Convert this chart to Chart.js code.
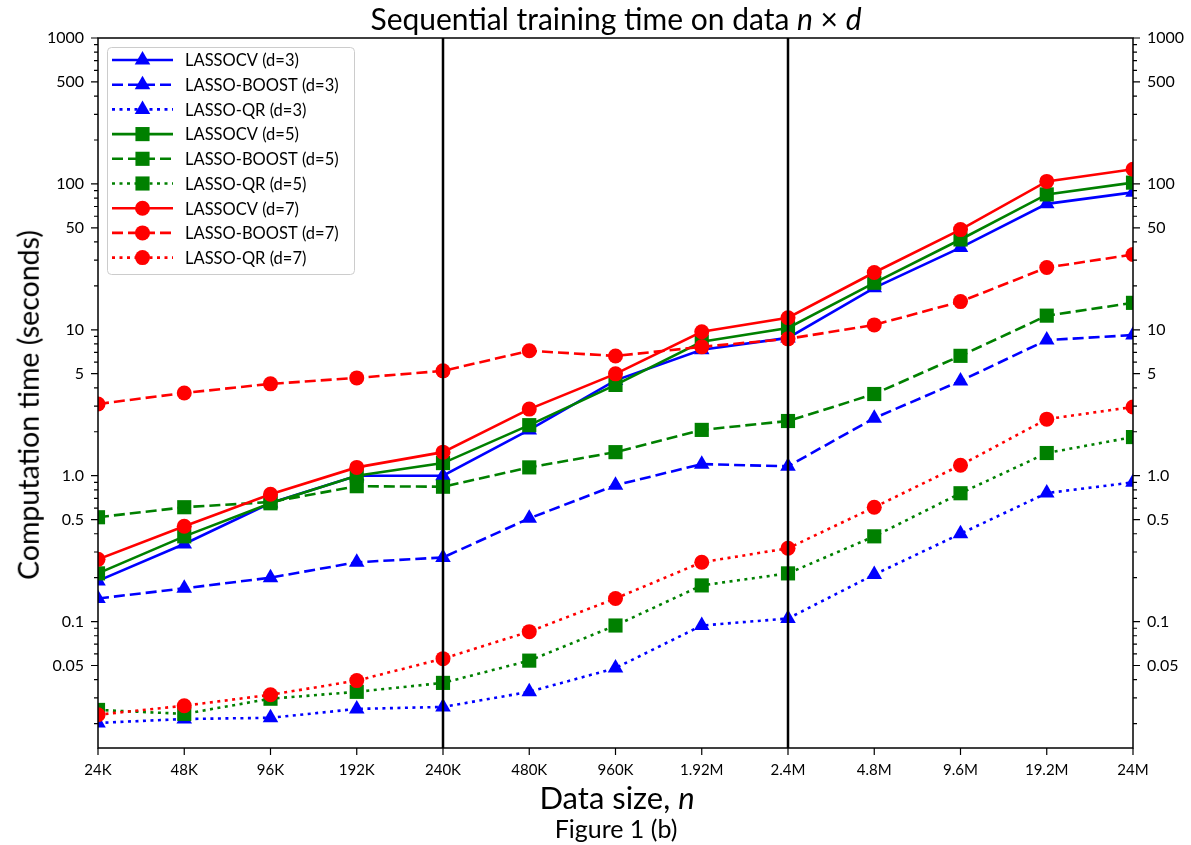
<!DOCTYPE html>
<html>
<head>
<meta charset="utf-8">
<script src="https://cdn.jsdelivr.net/npm/chart.js@4/dist/chart.umd.min.js"></script>
<style>
  body { margin: 0; background: #fff; }
  #wrap { position: relative; width: 1191px; height: 845px; font-family: Lato, "DejaVu Sans", sans-serif; color: #000; }
  canvas { position: absolute; left: 0; top: 0; }
  .lbl { position: absolute; white-space: nowrap; transform: translate(-50%, -50%); line-height: 1; }
  #title { left: 616px; top: 18px; font-size: 30px; }
  #xlabel { left: 617px; top: 797px; font-size: 31px; }
  #fig { left: 616px; top: 828px; font-size: 25px; }
  #ylabel { left: 28px; top: 405px; font-size: 28.5px; transform: translate(-50%, -50%) rotate(-90deg); }
</style>
</head>
<body>
<div id="wrap">
  <canvas id="chart" width="1191" height="845"></canvas>
  <div class="lbl" id="title">Sequential training time on data <i>n</i> × <i>d</i></div>
  <div class="lbl" id="xlabel">Data size, <i>n</i></div>
  <div class="lbl" id="fig">Figure 1 (b)</div>
  <div class="lbl" id="ylabel">Computation time (seconds)</div>
</div>
<script>
const sizes = ['24K', '48K', '96K', '192K', '240K', '480K', '960K', '1.92M', '2.4M', '4.8M', '9.6M', '19.2M', '24M']
const dividers = ['240K', '2.4M']

const lassoCvD3 = [0.19, 0.34, 0.65, 1.0, 1.0, 2.06, 4.5, 7.3, 8.8, 19.4, 36.6, 73, 87.5]
const boostD3 = [0.144, 0.169, 0.20, 0.255, 0.275, 0.51, 0.86, 1.2, 1.16, 2.48, 4.46, 8.5, 9.2]
const qrD3 = [0.0202, 0.0215, 0.0219, 0.0252, 0.026, 0.033, 0.048, 0.094, 0.105, 0.21, 0.40, 0.76, 0.90]
const lassoCvD5 = [0.214, 0.384, 0.647, 1.0, 1.22, 2.22, 4.19, 8.28, 10.3, 21.0, 41.6, 84.7, 102]
const boostD5 = [0.519, 0.608, 0.66, 0.847, 0.84, 1.14, 1.45, 2.06, 2.37, 3.63, 6.63, 12.5, 15.3]
const qrD5 = [0.0248, 0.0233, 0.0296, 0.033, 0.038, 0.054, 0.094, 0.177, 0.214, 0.384, 0.758, 1.43, 1.84]
const lassoCvD7 = [0.267, 0.45, 0.746, 1.14, 1.45, 2.86, 4.99, 9.7, 12.1, 24.7, 48.6, 104, 126]
const boostD7 = [3.1, 3.69, 4.26, 4.68, 5.23, 7.18, 6.62, 7.64, 8.67, 10.8, 15.6, 26.7, 32.8]
const qrD7 = [0.023, 0.0265, 0.0315, 0.0394, 0.0557, 0.0853, 0.144, 0.255, 0.318, 0.608, 1.18, 2.44, 2.96]

const yTickValues = [0.05, 0.1, 0.5, 1, 5, 10, 50, 100, 500, 1000]
const yTickLabels = ['0.05', '0.1', '0.5', '1.0', '5', '10', '50', '100', '500', '1000']

const FONT = 'Lato, "DejaVu Sans", sans-serif'
const styles = {
    solid: [],
    dashed: [11, 5],
    dotted: [3, 4.5],
}
const series = [
    { label: 'LASSOCV (d=3)', data: lassoCvD3, color: '#0000ff', dash: 'solid', marker: 'triangle', r: 9 },
    { label: 'LASSO-BOOST (d=3)', data: boostD3, color: '#0000ff', dash: 'dashed', marker: 'triangle', r: 9 },
    { label: 'LASSO-QR (d=3)', data: qrD3, color: '#0000ff', dash: 'dotted', marker: 'triangle', r: 9 },
    { label: 'LASSOCV (d=5)', data: lassoCvD5, color: '#008000', dash: 'solid', marker: 'rect', r: 10 },
    { label: 'LASSO-BOOST (d=5)', data: boostD5, color: '#008000', dash: 'dashed', marker: 'rect', r: 10 },
    { label: 'LASSO-QR (d=5)', data: qrD5, color: '#008000', dash: 'dotted', marker: 'rect', r: 10 },
    { label: 'LASSOCV (d=7)', data: lassoCvD7, color: '#ff0000', dash: 'solid', marker: 'circle', r: 7.5 },
    { label: 'LASSO-BOOST (d=7)', data: boostD7, color: '#ff0000', dash: 'dashed', marker: 'circle', r: 7.5 },
    { label: 'LASSO-QR (d=7)', data: qrD7, color: '#ff0000', dash: 'dotted', marker: 'circle', r: 7.5 },
]

const datasets = series.map((s, i) => ({
    label: s.label,
    data: s.data,
    borderColor: s.color,
    backgroundColor: s.color,
    borderWidth: 2.6,
    borderDash: styles[s.dash],
    borderCapStyle: 'butt',
    pointStyle: s.marker,
    pointRadius: s.r,
    pointBorderWidth: 0,
    tension: 0,
    clip: 0,
    order: series.length - i,
    yAxisID: 'y',
}))

function logTicks(scale) {
    const ticks = []
    for (let e = -2; e <= 3; e++) {
        for (let m = 1; m <= 9; m++) {
            const v = +(m * Math.pow(10, e)).toPrecision(3)
            if (v >= scale.min && v <= scale.max) ticks.push({ value: v })
        }
    }
    scale.ticks = ticks
}
function tickLabel(value) {
    const i = yTickValues.findIndex(v => Math.abs(v - value) / v < 1e-6)
    return i >= 0 ? yTickLabels[i] : ''
}
const yAxisBase = {
    type: 'logarithmic',
    min: 0.0136,
    max: 1000,
    grid: { display: false, drawTicks: false, tickLength: 0 },
    border: { display: false },
    afterBuildTicks: logTicks,
    ticks: {
        autoSkip: false,
        padding: 14,
        color: '#000',
        font: { family: FONT, size: 16 },
        callback: tickLabel,
    },
}

const decorations = {
    id: 'decorations',
    afterDatasetsDraw(chart) {
        const { ctx, chartArea: a, scales } = chart
        ctx.save()
        // vertical dividers
        ctx.strokeStyle = '#000'
        ctx.lineWidth = 2.5
        dividers.forEach(label => {
            const x = Math.round(scales.x.getPixelForValue(sizes.indexOf(label)))
            ctx.beginPath()
            ctx.moveTo(x, a.top)
            ctx.lineTo(x, a.bottom)
            ctx.stroke()
        })
        // frame
        ctx.lineWidth = 1.5
        ctx.strokeRect(a.left, a.top, a.right - a.left, a.bottom - a.top)
        // tick marks
        ctx.lineWidth = 1.2
        ctx.beginPath()
        scales.x.ticks.forEach((t, i) => {
            const x = scales.x.getPixelForTick(i)
            ctx.moveTo(x, a.bottom)
            ctx.lineTo(x, a.bottom + 7)
        })
        scales.y.ticks.forEach(t => {
            const y = scales.y.getPixelForValue(t.value)
            const len = tickLabel(t.value) ? 7 : 4
            ctx.moveTo(a.left, y)
            ctx.lineTo(a.left - len, y)
            ctx.moveTo(a.right, y)
            ctx.lineTo(a.right + len, y)
        })
        ctx.stroke()
        ctx.restore()
    },
    afterDraw(chart) {
        const { ctx, chartArea: a } = chart
        const box = { x: a.left + 9, y: a.top + 9, w: 247, h: 227 }
        ctx.save()
        ctx.fillStyle = 'rgba(255,255,255,0.8)'
        ctx.strokeStyle = '#cccccc'
        ctx.lineWidth = 1
        ctx.beginPath()
        ctx.roundRect(box.x + 0.5, box.y + 0.5, box.w, box.h, 4)
        ctx.fill()
        ctx.stroke()
        chart.data.datasets.forEach((ds, i) => {
            const y = box.y + 13 + i * 24.7
            ctx.strokeStyle = ds.borderColor
            ctx.fillStyle = ds.backgroundColor
            ctx.lineWidth = ds.borderWidth
            ctx.lineCap = 'butt'
            ctx.setLineDash(ds.borderDash)
            ctx.beginPath()
            ctx.moveTo(box.x + 5, y)
            ctx.lineTo(box.x + 66, y)
            ctx.stroke()
            ctx.setLineDash([])
            Chart.helpers.drawPoint(ctx, { pointStyle: ds.pointStyle, radius: ds.pointRadius, rotation: 0, borderWidth: 0 }, box.x + 35.5, y)
            ctx.fillStyle = '#000'
            ctx.font = `16.5px ${FONT}`
            ctx.textBaseline = 'middle'
            ctx.fillText(ds.label, box.x + 78, y + 1)
        })
        ctx.restore()
    },
}

new Chart(document.getElementById('chart'), {
    type: 'line',
    data: { labels: sizes, datasets },
    options: {
        responsive: false,
        animation: false,
        layout: { padding: { top: 38, left: 0, right: 0, bottom: 0 } },
        plugins: { legend: { display: false }, tooltip: { enabled: false } },
        scales: {
            x: {
                type: 'category',
                offset: false,
                grid: { display: false, drawTicks: false, tickLength: 0 },
                border: { display: false },
                ticks: { autoSkip: false, maxRotation: 0, padding: 13, color: '#000', font: { family: FONT, size: 15 } },
                afterFit: s => { s.height = 97 },
            },
            y: { ...yAxisBase, position: 'left', afterFit: s => { s.width = 98 } },
            y2: { ...yAxisBase, position: 'right', afterFit: s => { s.width = 58 } },
        },
    },
    plugins: [decorations],
})
</script>
</body>
</html>
